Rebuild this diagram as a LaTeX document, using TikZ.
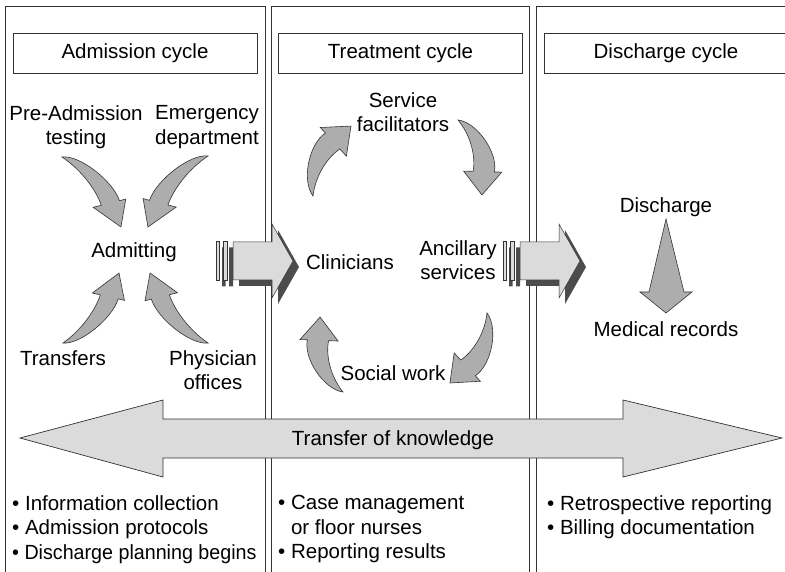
\documentclass[tikz,border=0pt]{standalone}
\usepackage{fontspec}
\usepackage{graphicx}
\setmainfont{Liberation Sans}

\definecolor{swooshgray}{gray}{0.68}
\definecolor{palegray}{gray}{0.86}
\definecolor{shadowgray}{gray}{0.30}
\definecolor{edgegray}{gray}{0.20}

% curved arrow: tail at #1, turned by #2, chord length #3, #4 = yscale (negative mirrors it)
\newcommand{\bentarrow}[4]{%
	\path [swoosh, shift={#1}, rotate=#2, scale=#3, yscale=#4]
	(0,0) .. controls (0.1,0.22) and (0.55,0.36) .. (0.77,0.24)
	-- (0.8,0.33) -- (1,0) -- (0.64,-0.13) -- (0.68,-0.015)
	.. controls (0.52,0.07) and (0.25,0.1) .. cycle;}

\tikzset{
	pics/blockarrow/.style={code={
		% dark copy behind
		\begin{scope}[shift={(6,-6)}]
			\fill [shadowgray] (0,-19.5) rectangle (3.5,19.5) (7,-19.5) rectangle (11,19.5);
			\fill [shadowgray] (17,-19) -- (56,-19) -- (56,-37) -- (77,0) -- (56,37) -- (56,19) -- (17,19) -- cycle;
		\end{scope}
		\path [draw=edgegray, fill=palegray, line width=0.5pt] (0,-19.5) rectangle (3.5,19.5) (7,-19.5) rectangle (11,19.5);
		\path [draw=edgegray, fill=palegray, line width=0.5pt] (17,-19) -- (56,-19) -- (56,-37) -- (77,0) -- (56,37) -- (56,19) -- (17,19) -- cycle;
	}}
}

\begin{document}
\begin{tikzpicture}[x=1pt, y=1pt,
	txt/.style={font=\fontsize{20.5}{24.5}\selectfont, align=center, inner sep=0pt},
	cyclebox/.style={draw=edgegray, line width=0.8pt, minimum width=244pt, minimum height=40pt, inner sep=0pt, font=\fontsize{20.5}{24.5}\selectfont},
	column/.style={draw=edgegray, line width=1pt},
	swoosh/.style={fill=swooshgray, draw=edgegray, line width=0.6pt}]

	\useasboundingbox (0,0) rectangle (785,-572);
	\clip (0,0) rectangle (785,-572);

	% three columns, open at the bottom
	\draw [column] (5,-580) -- (5,-7) -- (265,-7) -- (265,-580);
	\draw [column] (271,-580) -- (271,-7) -- (529,-7) -- (529,-580);
	\draw [column] (536,-580) -- (536,-7) -- (795,-7) -- (795,-580);

	\node [cyclebox] (admbox) at (135,-53) {Admission cycle};
	\node [cyclebox] (trtbox) at (400.5,-53) {Treatment cycle};
	\node [cyclebox] (disbox) at (666,-53) {Discharge cycle};

	% admission column
	\node [txt] (preadm) at (76,-127) {Pre-Admission\\testing};
	\node [txt] (emerg) at (207,-127) {Emergency\\department};
	\node [txt] (admit) at (134,-252) {Admitting};
	\node [txt] (transf) at (63,-358) {Transfers};
	\node [txt] (phys) at (213,-370) {Physician\\offices};
	\bentarrow{(62,-157)}{-49.9}{91.5}{0.72}
	\bentarrow{(208,-156)}{-130.2}{93}{-0.72}
	\bentarrow{(63,-343)}{51.3}{89.6}{-0.72}
	\bentarrow{(208,-343)}{129.6}{90.9}{0.72}

	% hand over to the next cycle
	\pic at (216,-261) {blockarrow};
	\pic at (503,-261) {blockarrow};

	% treatment column
	\node [txt] (serv) at (403,-112) {Service\\facilitators};
	\node [txt] (clin) at (350,-262) {Clinicians};
	\node [txt] (ancil) at (458,-260) {Ancillary\\services};
	\node [txt] (social) at (393,-373) {Social work};
	\bentarrow{(313,-196)}{61.5}{79.6}{1}
	\bentarrow{(458,-120)}{-72.3}{78.7}{1}
	\bentarrow{(487,-313)}{-117.9}{79.2}{1}
	\bentarrow{(343,-392)}{107}{78.4}{1}

	% discharge column
	\node [txt] (disch) at (666,-207) {Discharge};
	\node [txt] (medrec) at (666,-329) {Medical records};
	\path [swoosh] (666,-219) -- (684,-292) -- (692,-292) -- (666,-313)
	-- (640,-292) -- (649,-292) -- cycle;

	% double arrow across all columns
	\path [draw=edgegray, fill=palegray, line width=0.7pt]
	(20,-438) -- (163,-400) -- (163,-419) -- (623,-419) -- (623,-400)
	-- (782,-438) -- (623,-477) -- (623,-458) -- (163,-458) -- (163,-477) -- cycle;
	\node [txt] (know) at (393,-440) {Transfer of knowledge};

	\node [txt, align=left, anchor=north west] (admlist) at (12,-495)
	{\textbullet\ Information collection\\\textbullet\ Admission protocols\\
		\scalebox{0.96}[1]{\textbullet\ Discharge planning begins}};
	\node [txt, align=left, anchor=north west] (trtlist) at (278,-495)
	{\textbullet\ Case management\\\phantom{\textbullet\ }or floor nurses\\\textbullet\ Reporting results};
	\node [txt, align=left, anchor=north west] (dislist) at (547,-495)
	{\textbullet\ Retrospective reporting\\\textbullet\ Billing documentation};
\end{tikzpicture}
\end{document}
